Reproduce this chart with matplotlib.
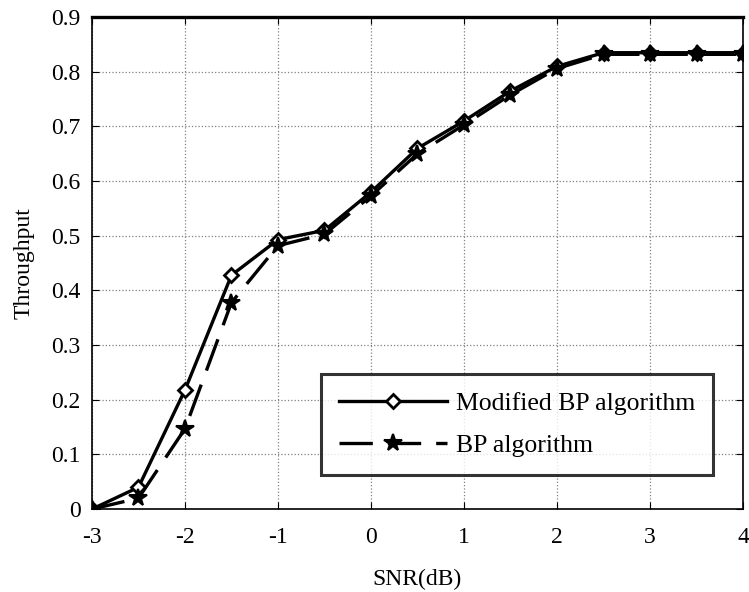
import matplotlib
matplotlib.use("Agg")
import matplotlib.pyplot as plt

snr = [-3, -2.5, -2, -1.5, -1, -0.5, 0, 0.5, 1, 1.5, 2, 2.5, 3, 3.5, 4]
modified_bp = [0.0, 0.04, 0.218, 0.428, 0.493, 0.51, 0.58, 0.66, 0.71, 0.765, 0.81, 0.835, 0.835, 0.835, 0.835]
bp = [0.0, 0.02, 0.147, 0.378, 0.482, 0.503, 0.573, 0.65, 0.703, 0.758, 0.806, 0.832, 0.832, 0.832, 0.832]
xticks = [-3, -2, -1, 0, 1, 2, 3, 4]
yticks = [0, 0.1, 0.2, 0.3, 0.4, 0.5, 0.6, 0.7, 0.8, 0.9]
ytick_labels = ["0", "0.1", "0.2", "0.3", "0.4", "0.5", "0.6", "0.7", "0.8", "0.9"]

plt.rcParams['font.family'] = ['Liberation Serif', 'DejaVu Serif']

fig = plt.figure(figsize=(7.49, 5.92), dpi=100)
ax = fig.add_axes([0.1228, 0.140, 0.8692, 0.831])

ax.plot(snr, modified_bp, '-', color='black', lw=2.4, marker='D', markersize=7,
        markerfacecolor='white', markeredgecolor='black', markeredgewidth=2,
        label='Modified BP algorithm')
ax.plot(snr, bp, '--', color='black', lw=2.4, dashes=(10, 4.5), marker='*', markersize=13,
        markerfacecolor='black', markeredgecolor='black', markeredgewidth=1.5,
        label='BP algorithm')

ax.set_xlim(-3, 4)
ax.set_ylim(0, 0.9)
ax.set_xticks(xticks)
ax.set_xticklabels([str(t) for t in xticks])
ax.set_yticks(yticks)
ax.set_yticklabels(ytick_labels)
ax.grid(True, color='#808080', linestyle=':', linewidth=0.9)
ax.tick_params(direction='in', top=True, right=True, length=5, labelsize=17)
ax.tick_params(axis='x', pad=13)
ax.tick_params(axis='y', pad=8)
for s in ax.spines.values():
    s.set_linewidth(1.2)
ax.spines['top'].set_linewidth(2.4)

ax.set_xlabel('SNR(dB)', fontsize=17, labelpad=15)
ax.set_ylabel('Throughput', fontsize=17, labelpad=12)

leg = ax.legend(loc='lower right', bbox_to_anchor=(0.954, 0.069), fontsize=18.5,
                frameon=True, fancybox=False, edgecolor='black', handlelength=4.2,
                borderpad=0.7, labelspacing=0.75, handletextpad=0.35, borderaxespad=0)
leg.get_frame().set_linewidth(2.2)

fig.savefig('out.png', dpi=100)
